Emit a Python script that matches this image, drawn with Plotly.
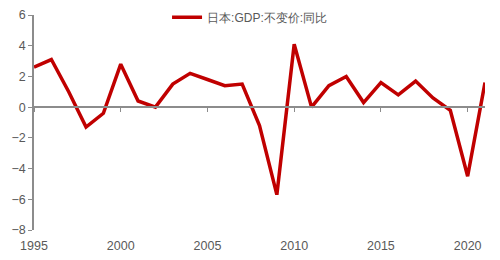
import plotly.graph_objects as go

years = list(range(1995, 2022))
gdp_yoy = [2.6, 3.1, 1.0, -1.3, -0.4, 2.8, 0.4, 0.0, 1.5, 2.2, 1.8, 1.4, 1.5,
           -1.2, -5.7, 4.1, 0.0, 1.4, 2.0, 0.3, 1.6, 0.8, 1.7, 0.6, -0.2, -4.5, 1.6]
series_name = "日本:GDP:不变价:同比"
x_ticks = [1995, 2000, 2005, 2010, 2015, 2020]
y_ticks = [6, 4, 2, 0, -2, -4, -6, -8]

gray = "#595959"
axis_gray = "#8c8c8c"

fig = go.Figure()
fig.add_trace(go.Scatter(x=years, y=gdp_yoy, mode="lines", name=series_name,
                         line=dict(color="#C00000", width=3.5), showlegend=True))
# invisible trace to host zero-crossing axis ticks
fig.add_trace(go.Scatter(x=years, y=gdp_yoy, xaxis="x2", mode="lines",
                         line=dict(width=0), showlegend=False, hoverinfo="skip", opacity=0))

fig.update_layout(
    width=500, height=260,
    margin=dict(l=34, r=15, t=15, b=30, autoexpand=False),
    paper_bgcolor="white", plot_bgcolor="white",
    font=dict(family="Liberation Sans, Arial, sans-serif", size=12, color=gray),
    showlegend=True,
    legend=dict(x=0.295, y=0.99, xanchor="left", yanchor="middle",
                font=dict(size=12, color=gray), bgcolor="rgba(0,0,0,0)",
                itemwidth=30),
    xaxis=dict(range=[1995, 2021], tickvals=x_ticks, showgrid=False,
               zeroline=False, showline=False, ticks="", ticklabelstandoff=6,
               tickfont=dict(size=12.5, color=gray)),
    xaxis2=dict(range=[1995, 2021], tickvals=x_ticks, overlaying="x", anchor="free",
                position=8/14, showgrid=False, zeroline=False, showline=True,
                linecolor=axis_gray, linewidth=1.5, ticks="outside", ticklen=4,
                tickcolor=axis_gray, showticklabels=False),
    yaxis=dict(range=[-8, 6], tickvals=y_ticks, showgrid=False, zeroline=False,
               showline=True, linecolor=axis_gray, linewidth=1.5,
               ticks="outside", ticklen=4, tickcolor=axis_gray,
               tickfont=dict(size=12.5, color=gray)),
)

fig.write_html("out.html")
